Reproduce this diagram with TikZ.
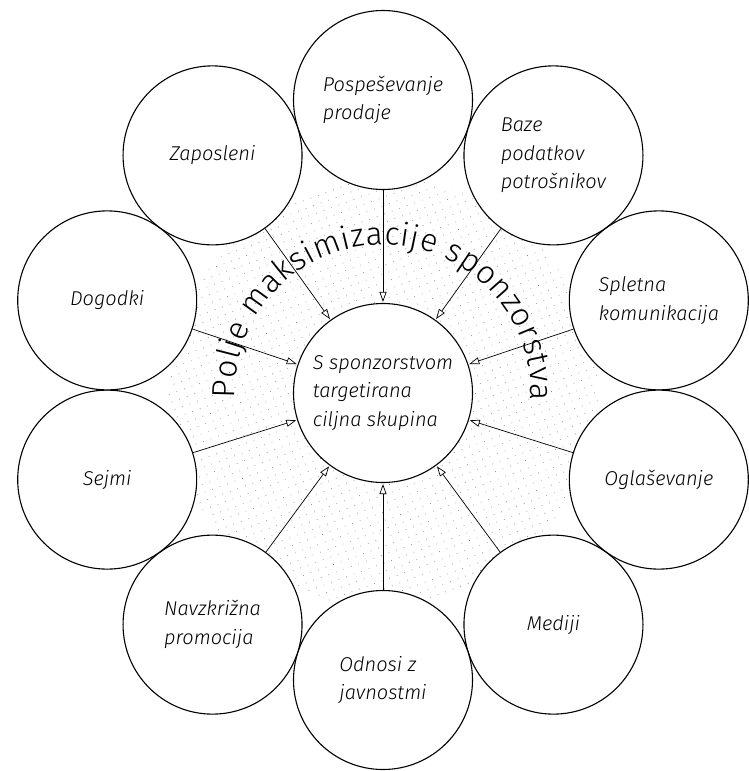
\documentclass[tikz,border=0pt]{standalone}
\usepackage{fontspec}
\setmainfont{Fira Sans}[UprightFont = {* Light}, ItalicFont = {* Light Italic}]
\usetikzlibrary{shapes.geometric, arrows.meta, decorations.text, patterns.meta}
\tikzstyle{every node} = [
		font = \itshape\fontsize{20}{28.5}\selectfont
	]
\tikzstyle{bubble} = [
		circle,
		minimum size = 179pt,
		inner sep = 0pt,
		draw = black,
		line width = 1.1pt,
		fill = white,
		align = left
	]
\tikzstyle{feed} = [
		-{Triangle[open, length = 10pt, width = 7pt]},
		line width = .7pt,
		shorten > = 1pt
	]

\begin{document}
\begin{tikzpicture}[x = 1pt, y = -1pt]
	\useasboundingbox (0,0) rectangle (749,771);

		%------------------------------Field------------------------------
		\fill [pattern = {Dots[distance = 8pt, radius = .5pt, angle = 20]}, pattern color = black!45]
			(383,393) circle [radius = 215pt];

		%------------------------------Circles------------------------------
		\node [bubble] (target) at (383,393) {S sponzorstvom\\targetirana\\ciljna skupina};
		\foreach \name/\ang/\txt in {
				pos/90/{Pospeševanje\\prodaje},
				baze/54/{Baze\\podatkov\\potrošnikov},
				splet/18/{Spletna\\komunikacija},
				ogl/-18/{Oglaševanje},
				med/-54/{Mediji},
				odn/-90/{Odnosi z\\javnostmi},
				navz/-126/{Navzkrižna\\promocija},
				sejmi/-162/{Sejmi},
				dog/162/{Dogodki},
				zap/126/{Zaposleni}}
			\node [bubble] (\name) at ([shift = {(\ang:290pt)}]383,390) {\txt};

		%------------------------------Arrows------------------------------
		\foreach \name in {pos, baze, splet, ogl, med, odn, navz, sejmi, dog, zap}
			\draw [feed] (\name) -- (target);

		%------------------------------Arc text------------------------------
		\path [decorate, decoration = {text along path, text align = fit to path,
				text = {|\upshape\fontsize{32}{32}\selectfont|Polje maksimizacije sponzorstva}}]
			([shift = {(182:148pt)}]383,393) arc [start angle = 182, end angle = -3, radius = 148pt];

\end{tikzpicture}
\end{document}
